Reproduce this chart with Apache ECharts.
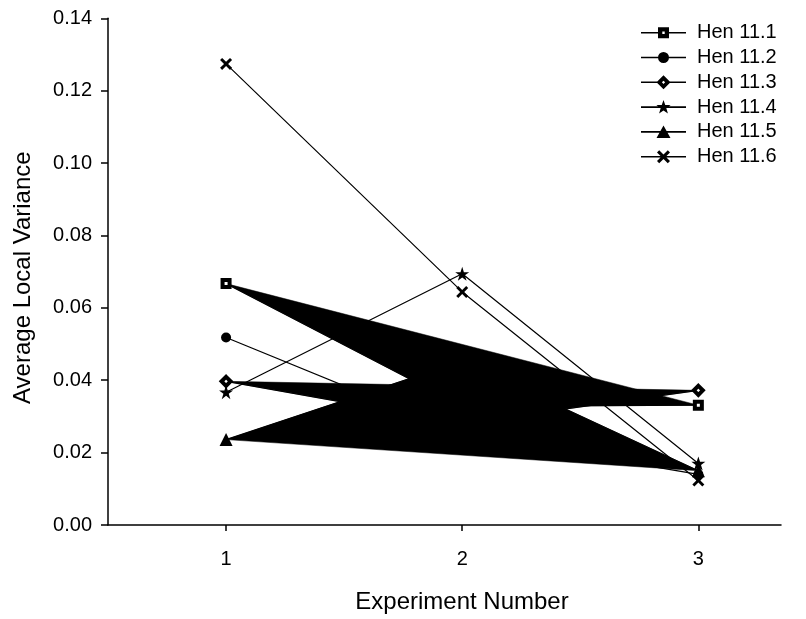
<!DOCTYPE html>
<html>
<head>
<meta charset="utf-8">
<script src="https://cdn.jsdelivr.net/npm/echarts@6/dist/echarts.min.js"></script>
<style>
html,body{margin:0;padding:0;background:#fff;}
#chart{width:806px;height:619px;}
</style>
</head>
<body>
<div id="chart"></div>
<script>
// ---- data ----
var experiments = [1, 2, 3];
var xTicks = [1, 2, 3];
var seriesNames = ['Hen 11.1', 'Hen 11.2', 'Hen 11.3', 'Hen 11.4', 'Hen 11.5', 'Hen 11.6'];
var hen111 = [0.0667, 0.0328, 0.0331];
var hen112 = [0.0518, 0.0251, 0.0140];
var hen113 = [0.0397, 0.0281, 0.0372];
var hen114 = [0.0367, 0.0694, 0.0170];
var hen115 = [0.0236, 0.0453, 0.0150];
var hen116 = [0.1274, 0.0644, 0.0123];
var yMin = 0, yMax = 0.14, yStep = 0.02;

// ---- styles ----
var FONT = 'Liberation Sans, Arial, Helvetica, sans-serif';
var STAR = 'path://M50,0 L62,36 L100,36 L69,58 L81,95 L50,72 L19,95 L31,58 L0,36 L38,36 Z';
var CROSS = 'path://M0,17 L17,0 L50,33 L83,0 L100,17 L67,50 L100,83 L83,100 L50,67 L17,100 L0,83 L33,50 Z';

// legend icons (45 x 16 box): line + marker
var BOX = 'M0,0 L0,0 Z M45,16 L45,16 Z ';
var FULLLINE = 'M0,7.2 L45,7.2 L45,8.8 L0,8.8 Z ';
var legendIcons = [
  'path://' + BOX + 'M0,7.2 L17,7.2 L17,8.8 L0,8.8 Z M28,7.2 L45,7.2 L45,8.8 L28,8.8 Z M17,2.5 L28,2.5 L28,13.5 L17,13.5 Z M21.3,6.8 L21.3,9.2 L23.7,9.2 L23.7,6.8 Z',
  'path://' + BOX + FULLLINE + 'M17,8 A5.5,5.5 0 1,1 28,8 A5.5,5.5 0 1,1 17,8 Z',
  'path://' + BOX + 'M0,7.2 L16.3,7.2 L16.3,8.8 L0,8.8 Z M28.7,7.2 L45,7.2 L45,8.8 L28.7,8.8 Z M22.5,1 L29.5,8 L22.5,15 L15.5,8 Z M22.5,6.4 L20.9,8 L22.5,9.6 L24.1,8 Z',
  'path://' + BOX + FULLLINE + 'M22.5,0.8 L24.26,5.87 L29.63,5.98 L25.35,9.23 L26.91,14.37 L22.5,11.3 L18.09,14.37 L19.65,9.23 L15.37,5.98 L20.74,5.87 Z',
  'path://' + BOX + FULLLINE + 'M22.5,1.5 L29.5,14 L15.5,14 Z',
  'path://' + BOX + FULLLINE + 'M16,3.71 L18.21,1.5 L22.5,5.79 L26.79,1.5 L29,3.71 L24.71,8 L29,12.29 L26.79,14.5 L22.5,10.21 L18.21,14.5 L16,12.29 L20.29,8 Z'
];

var allValues = [hen111, hen112, hen113, hen114, hen115, hen116];
var filled = [true, false, true, false, true, false];
var symbols = [
  {symbol: 'rect', size: 7, item: {color: '#fff', borderColor: '#000', borderWidth: 4}},
  {symbol: 'circle', size: 10, item: {color: '#000'}},
  {symbol: 'diamond', size: 9, item: {color: '#fff', borderColor: '#000', borderWidth: 4}},
  {symbol: STAR, size: 14, item: {color: '#000'}},
  {symbol: 'triangle', size: 13, item: {color: '#000'}},
  {symbol: CROSS, size: 12, item: {color: '#000'}}
];

function pairs(vals) {
  return experiments.map(function (x, i) { return [x, vals[i]]; });
}

var series = [];
allValues.forEach(function (vals, si) {
  if (!filled[si]) return;
  var pts = pairs(vals);
  series.push({
    type: 'custom',
    name: seriesNames[si] + ' fill',
    z: 1,
    silent: true,
    data: pts,
    encode: {x: 0, y: 1},
    renderItem: function (params, api) {
      if (params.dataIndex !== 0) return null;
      var poly = pts.map(function (p) { return api.coord(p); });
      return {type: 'polygon', shape: {points: poly}, style: {fill: '#000', stroke: '#000', lineWidth: 0.5}};
    }
  });
});
allValues.forEach(function (vals, si) {
  var s = symbols[si];
  var data = pairs(vals).map(function (p, i) {
    if (filled[si] && i === 1) return {value: p, symbol: 'none'};
    return {value: p};
  });
  series.push({
    type: 'line',
    name: seriesNames[si],
    z: 3,
    data: data,
    symbol: s.symbol,
    symbolSize: s.size,
    showAllSymbol: true,
    lineStyle: {color: '#000', width: 1.2},
    itemStyle: s.item,
    emphasis: {disabled: true},
    animation: false
  });
});

var chart = echarts.init(document.getElementById('chart'), null, {renderer: 'canvas'});
chart.setOption({
  animation: false,
  backgroundColor: '#fff',
  textStyle: {fontFamily: FONT},
  grid: {left: 108, right: 25, top: 18.3, bottom: 91.3, containLabel: false},
  legend: {
    data: seriesNames.map(function (n, i) { return {name: n, icon: legendIcons[i]}; }),
    orient: 'vertical',
    left: 641,
    top: 22.7,
    padding: 0,
    itemWidth: 45,
    itemHeight: 16,
    itemGap: 4.8,
    itemStyle: {color: '#000', borderWidth: 0, borderColor: '#000'},
    textStyle: {fontSize: 20, color: '#000', fontFamily: FONT, lineHeight: 20, padding: [0, 0, 0, 6]},
    selectedMode: false
  },
  xAxis: {
    type: 'value',
    min: 0.5,
    max: 3.35,
    name: 'Experiment Number',
    nameLocation: 'middle',
    nameGap: 65,
    nameTextStyle: {fontSize: 24, color: '#000', fontFamily: FONT, padding: [0, 0, 0, 35]},
    axisLine: {show: true, onZero: false, lineStyle: {color: '#000', width: 1.5}},
    axisTick: {show: true, length: 6, customValues: xTicks, lineStyle: {color: '#000', width: 1.5}},
    axisLabel: {show: true, margin: 24, fontSize: 20, color: '#000', fontFamily: FONT, customValues: xTicks},
    splitLine: {show: false}
  },
  yAxis: {
    type: 'value',
    min: yMin,
    max: yMax,
    interval: yStep,
    name: 'Average Local Variance',
    nameLocation: 'middle',
    nameGap: 73,
    nameTextStyle: {fontSize: 24, color: '#000', fontFamily: FONT, padding: [0, 12, 0, 0]},
    axisLine: {show: true, lineStyle: {color: '#000', width: 1.5}},
    axisTick: {show: true, length: 7, lineStyle: {color: '#000', width: 1.5}},
    axisLabel: {margin: 16, fontSize: 20, color: '#000', fontFamily: FONT,
      formatter: function (v) { return v.toFixed(2); }},
    splitLine: {show: false}
  },
  series: series
});
</script>
</body>
</html>
